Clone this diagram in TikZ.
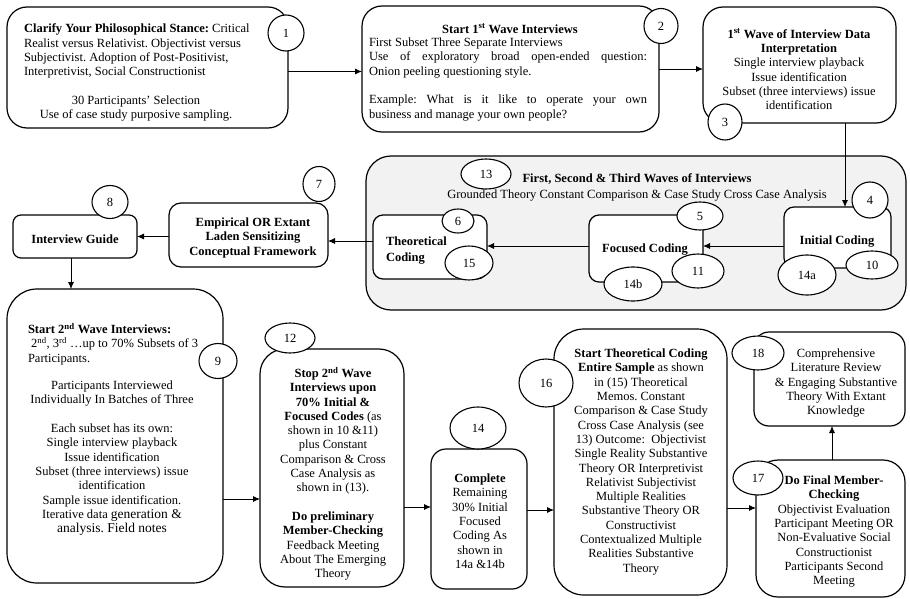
\documentclass[tikz,border=0pt]{standalone}
\usepackage{fontspec}
\setmainfont{Liberation Serif}
\usetikzlibrary{shapes.geometric,arrows.meta,calc}
\definecolor{contfill}{HTML}{F2F2F2}
\tikzset{
  base/.style={font=\fontsize{12.5}{14.3}\selectfont\frenchspacing, inner sep=0pt, outer sep=0pt},
  box/.style={base, draw=black, line width=1.2pt, fill=white, rectangle},
  bub/.style={base, draw=black, line width=1.1pt, fill=white, ellipse},
  txt/.style={base, align=center, anchor=north},
  arr/.style={line width=0.8pt, -{Latex[length=7pt,width=6pt]}},
}
\newcommand{\mybox}[6]{\node[box, rounded corners=#6pt, minimum width={#4-#2}, minimum height={#5-#3}] (#1) at ({(#2+#4)/2},{(#3+#5)/2}) {};}
\newcommand{\mybub}[6]{\node[bub, minimum width={2*#4}, minimum height={2*#5}] (#1) at (#2,#3) {#6};}
\begin{document}
\begin{tikzpicture}[x=1pt,y=-1pt]
\fill[white] (0,0) rectangle (910,599);
\useasboundingbox (0,0) rectangle (910,599);

% container
\node[box, fill=contfill, rounded corners=25pt, minimum width=540, minimum height=154] (cont) at (636,233) {};

% boxes
\mybox{b1}{7}{7}{288}{128}{20}
\mybox{b2}{362}{6}{659}{132}{20}
\mybox{b3}{703}{7}{896}{123}{20}
\mybox{b4}{784}{207}{891}{268}{10}
\mybox{b5}{589}{215}{703}{282}{10}
\mybox{b6}{373}{215}{487}{279}{10}
\mybox{b7}{169}{203}{328}{267}{12}
\mybox{b8}{13}{215}{137}{258}{8}
\mybox{b9}{7}{289}{223}{583}{30}
\mybox{b12}{260}{349}{404}{587}{25}
\mybox{b14}{431}{449}{527}{589}{15}
\mybox{b16}{554}{329}{727}{595}{30}
\mybox{b17}{756}{460}{905}{597}{22}
\mybox{b18}{754}{332}{905}{426}{15}

% texts
\node[base, align=left, anchor=north west] (t1a) at (24,24)
 {\textbf{Clarify Your Philosophical Stance:} Critical\\Realist versus Relativist. Objectivist versus\\Subjectivist. Adoption of Post-Positivist,\\Interpretivist, Social Constructionist};
\node[txt] (t1b) at (136,96) {30 Participants’ Selection\\Use of case study purposive sampling.};

\node[txt] (t2a) at (510,24) {\textbf{Start 1\textsuperscript{st} Wave Interviews}};
\node[base, text width=278pt, align=justify, anchor=north west] (t2b) at (369,38)
 {\tolerance=10000 First Subset Three Separate Interviews\\Use of exploratory broad open-ended question:\linebreak Onion peeling questioning style.\\[14.3pt]Example: What is it like to operate your own\linebreak business and manage your own people?};

\node[txt] (t3) at (799,29) {\textbf{1\textsuperscript{st} Wave of Interview Data}\\\textbf{Interpretation}\\Single interview playback\\Issue identification\\Subset (three interviews) issue\\identification};

\node[txt] (tc) at (637,174) {\textbf{First, Second \& Third Waves of Interviews}\\[1.7pt]Grounded Theory Constant Comparison \& Case Study Cross Case Analysis};

\node[txt] (t4) at (837,236) {\textbf{Initial Coding}};
\node[txt] (t5) at (645,244) {\textbf{Focused Coding}};
\node[base, align=left, anchor=north west] (t6) at (386,237) {\textbf{Theoretical}\\[1.7pt]\textbf{Coding}};
\node[txt] (t7) at (253,218) {\textbf{Empirical OR Extant}\\\textbf{Laden Sensitizing}\\\textbf{Conceptual Framework}};
\node[txt] (t8) at (75,235) {\textbf{Interview Guide}};

\node[base, align=left, anchor=north west] (t9a) at (28,323)
 {\textbf{Start 2\textsuperscript{nd} Wave Interviews:}\\\ 2\textsuperscript{nd}, 3\textsuperscript{rd} …up to 70\% Subsets of 3\\Participants.};
\node[txt] (t9b) at (112,381)
 {Participants Interviewed\\Individually In Batches of Three\\[14.3pt]Each subset has its own:\\Single interview playback\\Issue identification\\Subset (three interviews) issue\\identification\\Sample issue identification.\\Iterative data {\fontsize{13.5}{14.3}\selectfont generation \&}\\{\fontsize{13.5}{14.3}\selectfont analysis. Field notes}};

\node[txt] (t12) at (333,367)
 {\textbf{Stop 2\textsuperscript{nd} Wave}\\\textbf{Interviews upon}\\\textbf{70\% Initial \&}\\\textbf{Focused Codes} (as\\shown in 10 \&11)\\plus Constant\\Comparison \& Cross\\Case Analysis as\\shown in (13).\\[14.3pt]\textbf{Do preliminary}\\\textbf{Member-Checking}\\Feedback Meeting\\About The Emerging\\Theory};

\node[txt] (t14) at (480,474)
 {\textbf{Complete}\\Remaining\\30\% Initial\\Focused\\Coding As\\shown in\\14a \&14b};

\node[txt] (t16) at (641,349)
 {\textbf{Start Theoretical Coding}\\\textbf{Entire Sample} as shown\\in (15) Theoretical\\Memos. Constant\\Comparison \& Case Study\\Cross Case Analysis (see\\13) Outcome:\ \ Objectivist\\Single Reality Substantive\\Theory OR Interpretivist\\Relativist Subjectivist\\Multiple Realities\\Substantive Theory OR\\Constructivist\\Contextualized Multiple\\Realities Substantive\\Theory};

\node[txt] (t17) at (834,476)
 {\textbf{Do Final Member-}\\\textbf{Checking}\\Objectivist Evaluation\\Participant Meeting OR\\Non-Evaluative Social\\Constructionist\\Participants Second\\Meeting};

\node[txt] (t18) at (836,349)
 {Comprehensive\\Literature Review\\\& Engaging Substantive\\Theory With Extant\\Knowledge};

% connectors
\draw[arr] ([yshift=-4pt]b1.east) -- ([yshift=-4pt]b1.east -| b2.west);
\draw[arr] (b2.east) -- (b2.east -| b3.west);
\draw[arr] ([xshift=7.5pt]b4.north |- b3.south) -- ([xshift=7.5pt]b4.north);
\draw[arr] ([yshift=2.5pt]b5.east -| b4.west) -- ([yshift=2.5pt]b5.east);
\draw[arr] ([yshift=1pt]b6.east -| b5.west) -- ([yshift=1pt]b6.east);
\draw[arr] ([yshift=6pt]b6.west) -- ([yshift=6pt]b6.west -| b7.east);
\draw[arr] (b8.east -| b7.west) -- (b8.east);
\draw[arr] ([xshift=-4pt]b8.south) -- ([xshift=-4pt]b8.south |- b9.north);
\draw[arr] ([yshift=-31pt]b12.west -| b9.east) -- ([yshift=-31pt]b12.west);
\draw[arr] ([yshift=12pt]b14.west -| b12.east) -- ([yshift=12pt]b14.west);
\draw[arr] ([yshift=9pt]b14.east) -- ([yshift=9pt]b14.east -| b16.west);
\draw[arr] ([yshift=20.5pt]b17.west -| b16.east) -- ([yshift=20.5pt]b17.west);
\draw[arr] ([xshift=1.5pt]b17.north) -- ([xshift=1.5pt]b17.north |- b18.south);

% numbered bubbles
\mybub{c1}{286}{33}{18}{18}{1}
\mybub{c2}{661}{26}{17}{17.5}{2}
\mybub{c3}{725}{122}{17}{18}{3}
\mybub{c4}{870}{200}{18}{18}{4}
\mybub{c5}{700}{216}{23}{14}{5}
\mybub{c6}{458}{221}{16}{12}{6}
\mybub{c7}{319}{184}{16}{17.5}{7}
\mybub{c8}{110}{202}{18}{16.5}{8}
\mybub{c9}{218}{361}{19}{17.5}{9}
\mybub{c10}{872}{265}{26}{14}{10}
\mybub{c11}{698}{271}{26}{17}{11}
\mybub{c12}{290}{338}{25}{15}{12}
\mybub{c13}{486}{174}{25}{15}{13}
\mybub{c14}{478}{428}{28}{21}{14}
\mybub{c14a}{807}{275}{29}{20}{14a}
\mybub{c14b}{633}{284}{29}{17}{14b}
\mybub{c15}{469}{263}{24}{17}{15}
\mybub{c16}{546}{383}{27}{24}{16}
\mybub{c17}{758}{478}{25}{17}{17}
\mybub{c18}{758}{353}{26}{17}{18}
\end{tikzpicture}
\end{document}
